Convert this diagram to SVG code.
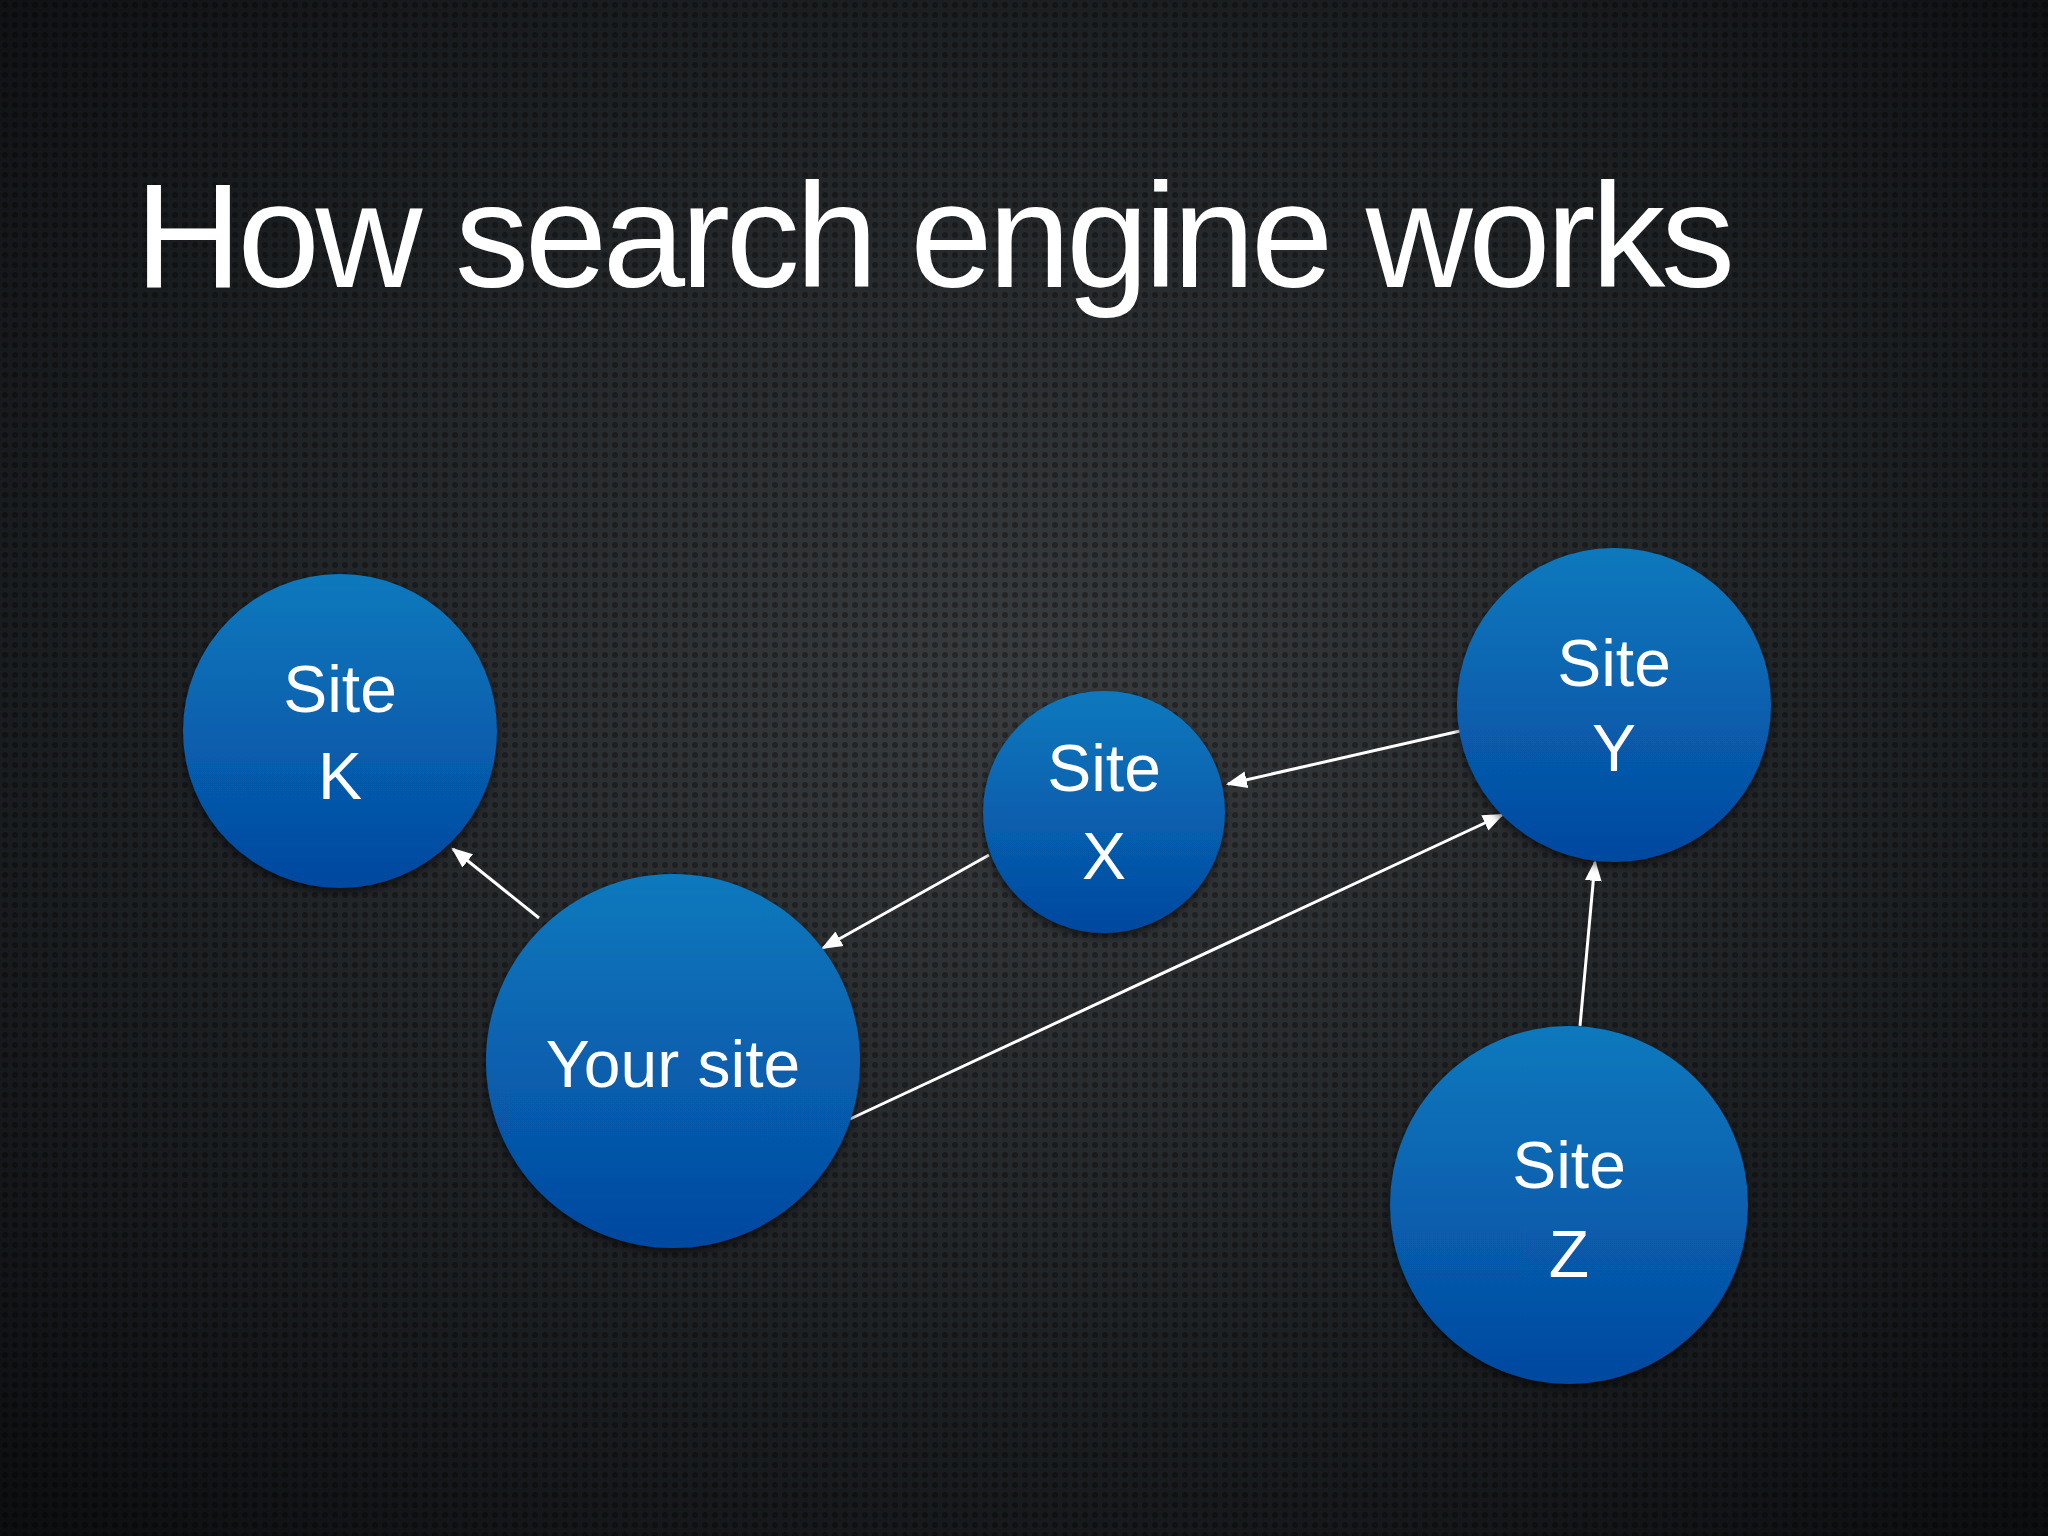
<svg xmlns="http://www.w3.org/2000/svg" width="2048" height="1536" viewBox="0 0 2048 1536">
<defs>
<radialGradient id="bg" cx="0.5" cy="0.45" r="0.75">
<stop offset="0" stop-color="#3a3d40"/><stop offset="0.6" stop-color="#1c1f22"/><stop offset="1" stop-color="#0b0d0f"/>
</radialGradient>
<pattern id="dots" width="10" height="10" patternUnits="userSpaceOnUse">
<circle cx="5" cy="5" r="3" fill="#000" opacity="0.35"/>
</pattern>
<linearGradient id="ball" x1="0" y1="0" x2="0" y2="1">
<stop offset="0" stop-color="#0b79bd"/><stop offset="1" stop-color="#0448a0"/>
</linearGradient>
<marker id="ah" viewBox="0 0 10 10" refX="9" refY="5" markerWidth="7" markerHeight="7" orient="auto">
<path d="M0,1 L10,5 L0,9 z" fill="#fff"/>
</marker>
<filter id="sh"><feDropShadow dx="0" dy="4" stdDeviation="4" flood-color="#000" flood-opacity="0.6"/></filter>
</defs>
<style>
.node{fill:url(#ball);filter:url(#sh)}
.lbl{font-family:"Liberation Sans",Arial,sans-serif;font-size:66px;fill:#fff;text-anchor:middle}
.con{stroke:#fff;stroke-width:3;fill:none;marker-end:url(#ah)}
</style>
<rect width="2048" height="1536" fill="url(#bg)"/>
<rect width="2048" height="1536" fill="url(#dots)"/>
<text x="135" y="287" font-family="Liberation Sans,Arial,sans-serif" font-size="148" fill="#fff" textLength="1600">How search engine works</text>
<g id="connectors">
<line class="con" x1="539" y1="918" x2="453" y2="849"/>
<line class="con" x1="989" y1="855" x2="823" y2="948"/>
<line class="con" x1="1460" y1="731" x2="1228" y2="784"/>
<line class="con" x1="850" y1="1119" x2="1502" y2="815"/>
<line class="con" x1="1580" y1="1026" x2="1595" y2="862"/>
</g>
<g id="siteK"><circle class="node" cx="340" cy="731" r="157"/><text class="lbl" x="340" y="712">Site</text><text class="lbl" x="340" y="799">K</text></g>
<g id="siteX"><circle class="node" cx="1104" cy="812" r="121"/><text class="lbl" x="1104" y="791">Site</text><text class="lbl" x="1104" y="879">X</text></g>
<g id="siteY"><circle class="node" cx="1614" cy="705" r="157"/><text class="lbl" x="1614" y="686">Site</text><text class="lbl" x="1614" y="771">Y</text></g>
<g id="yoursite"><circle class="node" cx="673" cy="1061" r="187"/><text class="lbl" x="673" y="1087">Your site</text></g>
<g id="siteZ"><circle class="node" cx="1569" cy="1205" r="179"/><text class="lbl" x="1569" y="1188">Site</text><text class="lbl" x="1569" y="1277">Z</text></g>
</svg>
